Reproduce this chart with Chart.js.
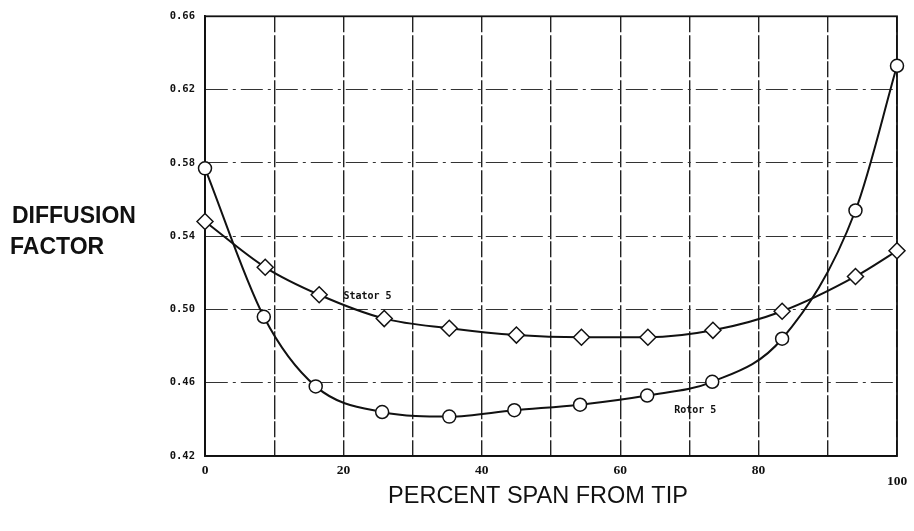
<!DOCTYPE html>
<html>
<head>
<meta charset="utf-8">
<script src="https://cdn.jsdelivr.net/npm/chart.js@4"></script>
<style>
  html, body { margin: 0; padding: 0; background: #fff; }
  #wrap { width: 914px; height: 531px; position: relative; }
</style>
</head>
<body>
<div id="wrap"><canvas id="c" width="914" height="531"></canvas></div>
<script>
// Percent span from tip and diffusion factor for each blade row
const rotorSpan   = [0, 8.5, 16.0, 25.6, 35.3, 44.7, 54.2, 63.9, 73.3, 83.4, 94.0, 100];
const rotorDF     = [0.577, 0.496, 0.458, 0.444, 0.4415, 0.445, 0.448, 0.453, 0.4605, 0.484, 0.554, 0.633];
const statorSpan  = [0, 8.7, 16.5, 25.9, 35.3, 45.0, 54.4, 64.0, 73.4, 83.4, 94.0, 100];
const statorDF    = [0.548, 0.523, 0.508, 0.495, 0.4897, 0.486, 0.4848, 0.4848, 0.4886, 0.499, 0.518, 0.532];
const xTickLabels = [0, 20, 40, 60, 80, 100];
const yTickLabels = [0.42, 0.46, 0.50, 0.54, 0.58, 0.62, 0.66];
const seriesNames = ['Rotor 5', 'Stator 5'];
const axisTitleX  = 'PERCENT SPAN FROM TIP';
const axisTitleY  = ['DIFFUSION', 'FACTOR'];

const toPoints = (xs, ys) => xs.map((x, i) => ({ x: x, y: ys[i] }));

// Closed frame, axis titles and curve labels
const decorations = {
  id: 'decorations',
  beforeDatasetsDraw(chart) {
    const { ctx, chartArea: a } = chart;
    ctx.save();
    ctx.strokeStyle = '#111';
    ctx.lineWidth = 1.8;
    ctx.strokeRect(a.left, a.top, a.right - a.left, a.bottom - a.top);
    ctx.restore();
  },
  afterDatasetsDraw(chart) {
    const { ctx, scales } = chart;
    ctx.save();
    ctx.fillStyle = '#111';
    ctx.textBaseline = 'middle';
    ctx.textAlign = 'left';
    ctx.font = 'bold 23px "Liberation Sans", Arial, sans-serif';
    ctx.fillText(axisTitleY[0], 12, 217);
    ctx.fillText(axisTitleY[1], 10, 248);

    ctx.textAlign = 'center';
    ctx.font = '23.5px "Liberation Sans", Arial, sans-serif';
    ctx.fillText(axisTitleX, 538, 497);

    ctx.font = 'bold 10px "DejaVu Sans Mono", monospace';
    ctx.textAlign = 'left';
    ctx.fillText(seriesNames[1], scales.x.getPixelForValue(20.0), scales.y.getPixelForValue(0.507));
    ctx.fillText(seriesNames[0], scales.x.getPixelForValue(67.8), scales.y.getPixelForValue(0.4448));
    ctx.restore();
  }
};

new Chart(document.getElementById('c'), {
  type: 'scatter',
  data: {
    datasets: [
      {
        label: seriesNames[0],
        data: toPoints(rotorSpan, rotorDF),
        showLine: true,
        clip: false,
        borderColor: '#111',
        borderWidth: 2,
        cubicInterpolationMode: 'monotone',
        pointStyle: 'circle',
        pointRadius: 6.5,
        pointBackgroundColor: '#fff',
        pointBorderColor: '#111',
        pointBorderWidth: 1.5
      },
      {
        label: seriesNames[1],
        data: toPoints(statorSpan, statorDF),
        showLine: true,
        clip: false,
        borderColor: '#111',
        borderWidth: 2,
        cubicInterpolationMode: 'monotone',
        pointStyle: 'rectRot',
        pointRadius: 8,
        pointBackgroundColor: '#fff',
        pointBorderColor: '#111',
        pointBorderWidth: 1.5
      }
    ]
  },
  options: {
    responsive: false,
    animation: false,
    layout: { padding: { top: 11, right: 17, left: 0, bottom: 0 } },
    plugins: {
      legend: { display: false },
      tooltip: { enabled: false }
    },
    scales: {
      x: {
        type: 'linear',
        min: 0,
        max: 100,
        afterFit(scale) {
          scale.height = 75;
          scale.paddingLeft = 0;
          scale.paddingRight = 0;
        },
        afterBuildTicks(scale) {
          const t = [];
          for (let v = 0; v <= 100; v += 10) t.push({ value: v });
          scale.ticks = t;
        },
        ticks: {
          autoSkip: false,
          maxRotation: 0,
          padding: 9,
          color: '#111',
          font: { family: '"Liberation Serif", serif', size: 13.5, weight: 'bold', lineHeight: 0.8 },
          callback(v) {
            if (!xTickLabels.includes(v)) return '';
            return v === 100 ? ['', String(v)] : String(v);
          }
        },
        grid: { color: '#222', lineWidth: 1.4, drawTicks: false },
        border: { color: '#111', width: 1.8, dash: [16, 3, 24, 2] }
      },
      y: {
        type: 'linear',
        min: 0.42,
        max: 0.66,
        afterFit(scale) { scale.width = 205; },
        afterBuildTicks(scale) {
          scale.ticks = yTickLabels.map(v => ({ value: v }));
        },
        ticks: {
          padding: 10,
          color: '#111',
          font: { family: '"DejaVu Sans Mono", monospace', size: 10.5, weight: 'bold' },
          callback(v) { return v.toFixed(2); }
        },
        grid: { color: '#333', lineWidth: 1.1, drawTicks: false },
        border: { color: '#111', width: 1.8, dash: [22, 5, 3, 5] }
      }
    }
  },
  plugins: [decorations]
});
</script>
</body>
</html>
